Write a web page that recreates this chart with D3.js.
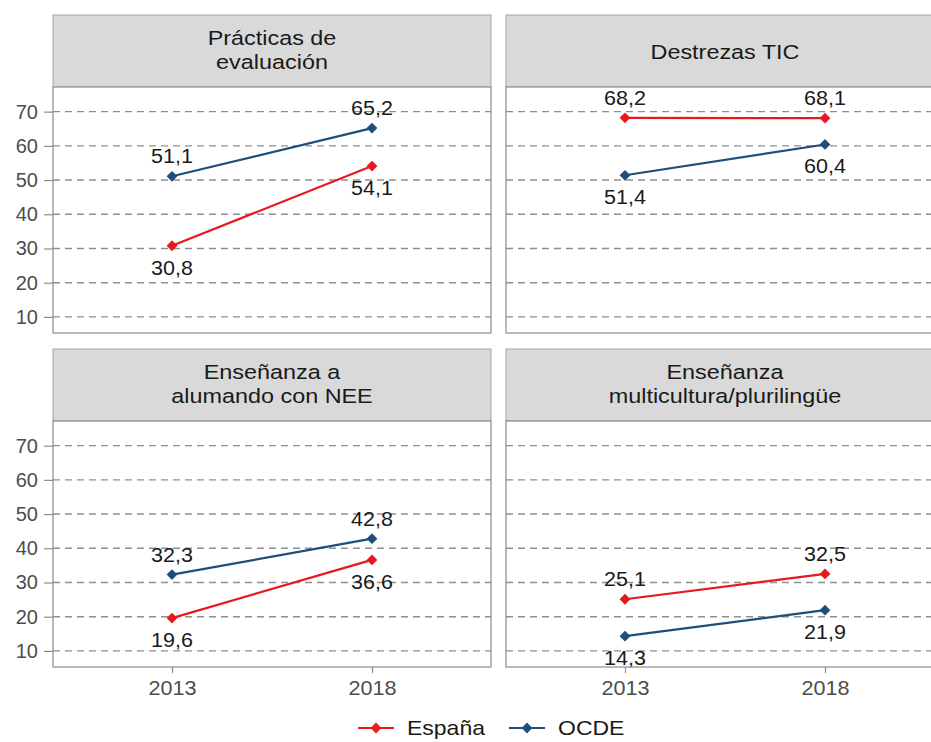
<!DOCTYPE html>
<html>
<head>
<meta charset="utf-8">
<script src="https://cdn.jsdelivr.net/npm/d3@7/dist/d3.min.js"></script>
<style>
  html, body { margin: 0; padding: 0; background: #ffffff; }
  svg { display: block; font-family: "Liberation Sans", Arial, Helvetica, sans-serif; }
</style>
</head>
<body>
<svg id="chart" width="931" height="742"></svg>
<script>
// ---- Data ----
const categories = [
  ["Prácticas de", "evaluación"],
  ["Destrezas TIC"],
  ["Enseñanza a", "alumando con NEE"],
  ["Enseñanza", "multicultura/plurilingüe"]
];
const years = [2013, 2018];
const seriesNames = ["España", "OCDE"];
const espana = [[30.8, 54.1], [68.2, 68.1], [19.6, 36.6], [25.1, 32.5]];
const ocde   = [[51.1, 65.2], [51.4, 60.4], [32.3, 42.8], [14.3, 21.9]];
const yTicks = [10, 20, 30, 40, 50, 60, 70];
const seriesColors = ["#e8181f", "#1f4e79"];

// ---- Layout ----
const svg = d3.select("#chart");
const panelW = 438, panelH = 246, stripH = 72;
const colX = [53, 506];
const rowTop = [15, 349];
const font = "'Liberation Sans', Arial, Helvetica, sans-serif";

const x = d3.scaleLinear().domain([2010.025, 2020.975]).range([0, panelW]);
const y = d3.scaleLinear().domain([5.3, 77.2]).range([panelH, 0]);

function sText(g, tx, ty, str, size, sx, color, anchor) {
  return g.append("text")
    .attr("transform", `translate(${tx},${ty}) scale(${sx},1)`)
    .attr("text-anchor", anchor || "middle")
    .attr("font-size", size)
    .attr("fill", color)
    .text(str);
}

const diamond = d3.symbol().type(d3.symbolSquare).size(58);

categories.forEach((cat, i) => {
  const col = i % 2, row = Math.floor(i / 2);
  const gx = colX[col], gy = rowTop[row];
  const g = svg.append("g").attr("transform", `translate(${gx},${gy})`);

  // strip
  g.append("rect").attr("x", 0).attr("y", 0).attr("width", panelW).attr("height", stripH)
    .attr("fill", "#d9d9d9").attr("stroke", "#a6a6a6").attr("stroke-width", 1);
  if (cat.length === 2) {
    sText(g, panelW / 2, 30, cat[0], 19.5, 1.2, "#1a1a1a");
    sText(g, panelW / 2, 54, cat[1], 19.5, 1.2, "#1a1a1a");
  } else {
    sText(g, panelW / 2, 44, cat[0], 19.5, 1.2, "#1a1a1a");
  }

  const p = g.append("g").attr("transform", `translate(0,${stripH})`);
  p.append("rect").attr("width", panelW).attr("height", panelH).attr("fill", "#fff");

  // grid
  p.selectAll("line.grid").data(yTicks).join("line")
    .attr("class", "grid")
    .attr("x1", 0).attr("x2", panelW)
    .attr("y1", d => y(d)).attr("y2", d => y(d))
    .attr("stroke", "#8f8f8f").attr("stroke-width", 1.4)
    .attr("stroke-dasharray", "7,5");

  // y axis on left column
  if (col === 0) {
    const ya = p.append("g").call(d3.axisLeft(y).tickValues(yTicks).tickSize(9).tickPadding(6));
    ya.select(".domain").remove();
    ya.selectAll(".tick line").attr("stroke", "#8c8c8c").attr("stroke-width", 1.2);
    ya.selectAll(".tick text").attr("font-size", 20).attr("fill", "#4d4d4d").attr("font-family", font);
  }
  // x axis on bottom row
  if (row === 1) {
    const xa = p.append("g").attr("transform", `translate(0,${panelH})`)
      .call(d3.axisBottom(x).tickValues(years).tickFormat(d3.format("d")).tickSize(6).tickPadding(8));
    xa.select(".domain").remove();
    xa.selectAll(".tick line").attr("stroke", "#8c8c8c").attr("stroke-width", 1.2);
    xa.selectAll(".tick text").attr("font-size", 20).attr("fill", "#4d4d4d").attr("font-family", font)
      .attr("transform", "scale(1.08,1)");
  }

  const sData = [espana[i], ocde[i]];
  const line = d3.line().x((d, k) => x(years[k])).y(d => y(d));
  sData.forEach((vals, s) => {
    p.append("path").datum(vals).attr("d", line)
      .attr("fill", "none").attr("stroke", seriesColors[s]).attr("stroke-width", 2.2);
    vals.forEach((v, k) => {
      p.append("path").attr("d", diamond)
        .attr("transform", `translate(${x(years[k])},${y(v)}) rotate(45)`)
        .attr("fill", seriesColors[s]);
    });
  });
  // labels: higher value above, lower below
  sData.forEach((vals, s) => {
    vals.forEach((v, k) => {
      const other = sData[1 - s][k];
      const above = v >= other;
      const ty = above ? y(v) - 13 : y(v) + 29;
      sText(p, x(years[k]), ty, d3.format(".1f")(v).replace(".", ","), 20.5, 1.05, "#1a1a1a");
    });
  });

  // panel border
  p.append("rect").attr("width", panelW).attr("height", panelH)
    .attr("fill", "none").attr("stroke", "#8c8c8c").attr("stroke-width", 1.2);
});

// ---- Legend ----
const legendItems = [
  { name: seriesNames[0], color: seriesColors[0], x0: 358 },
  { name: seriesNames[1], color: seriesColors[1], x0: 509 }
];
const ly = 728;
const lg = svg.append("g");
legendItems.forEach(it => {
  lg.append("line").attr("x1", it.x0).attr("x2", it.x0 + 36).attr("y1", ly).attr("y2", ly)
    .attr("stroke", it.color).attr("stroke-width", 2.2);
  lg.append("path").attr("d", diamond)
    .attr("transform", `translate(${it.x0 + 18},${ly}) rotate(45)`).attr("fill", it.color);
  sText(lg, it.x0 + 49, ly + 7, it.name, 20, 1.15, "#1a1a1a", "start");
});
</script>
</body>
</html>
